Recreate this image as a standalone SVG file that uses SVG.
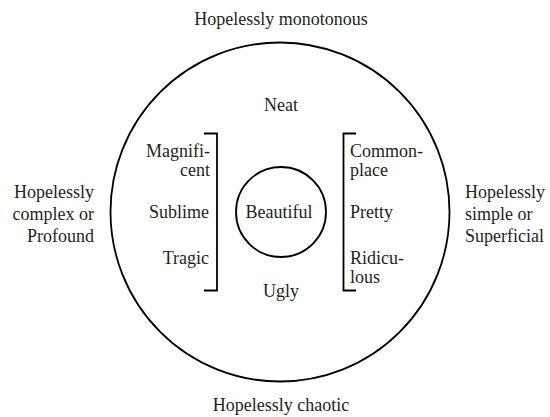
<svg xmlns="http://www.w3.org/2000/svg" width="550" height="417" viewBox="0 0 550 417">
<rect width="550" height="417" fill="#fff"/>
<g id="outer"><circle cx="280" cy="212" r="169.5" fill="none" stroke="#000" stroke-width="1.8"/></g>
<g id="inner"><circle cx="281" cy="212" r="45" fill="none" stroke="#000" stroke-width="1.8"/><text x="279" y="218" font-family="serif" font-size="18" fill="#231f20" text-anchor="middle">Beautiful</text></g>
<g id="brackets">
<path d="M204 133.5H217V290.5H204" fill="none" stroke="#000" stroke-width="1.8"/>
<path d="M356 133.5H343.5V290.5H356" fill="none" stroke="#000" stroke-width="1.8"/>
</g>
<g id="top"><text x="281" y="25" font-family="serif" font-size="18" fill="#231f20" text-anchor="middle">Hopelessly monotonous</text></g>
<g id="bottom"><text x="281" y="411" font-family="serif" font-size="18" fill="#231f20" text-anchor="middle">Hopelessly chaotic</text></g>
<g id="neat"><text x="281" y="111" font-family="serif" font-size="18" fill="#231f20" text-anchor="middle">Neat</text></g>
<g id="ugly"><text x="281" y="297" font-family="serif" font-size="18" fill="#231f20" text-anchor="middle">Ugly</text></g>
<g id="left">
<text x="94" y="198" font-family="serif" font-size="18" fill="#231f20" text-anchor="end">Hopelessly</text>
<text x="94" y="220" font-family="serif" font-size="18" fill="#231f20" text-anchor="end">complex or</text>
<text x="94" y="242" font-family="serif" font-size="18" fill="#231f20" text-anchor="end">Profound</text>
</g>
<g id="right">
<text x="465" y="198" font-family="serif" font-size="18" fill="#231f20">Hopelessly</text>
<text x="465" y="220" font-family="serif" font-size="18" fill="#231f20">simple or</text>
<text x="465" y="242" font-family="serif" font-size="18" fill="#231f20">Superficial</text>
</g>
<g id="leftcol">
<text x="210" y="157" font-family="serif" font-size="18" fill="#231f20" text-anchor="end">Magnifi-</text>
<text x="210" y="176" font-family="serif" font-size="18" fill="#231f20" text-anchor="end">cent</text>
<text x="209" y="218" font-family="serif" font-size="18" fill="#231f20" text-anchor="end">Sublime</text>
<text x="209" y="264" font-family="serif" font-size="18" fill="#231f20" text-anchor="end">Tragic</text>
</g>
<g id="rightcol">
<text x="350" y="157" font-family="serif" font-size="18" fill="#231f20">Common-</text>
<text x="350" y="176" font-family="serif" font-size="18" fill="#231f20">place</text>
<text x="350" y="218" font-family="serif" font-size="18" fill="#231f20">Pretty</text>
<text x="350" y="264" font-family="serif" font-size="18" fill="#231f20">Ridicu-</text>
<text x="350" y="283" font-family="serif" font-size="18" fill="#231f20">lous</text>
</g>
</svg>
